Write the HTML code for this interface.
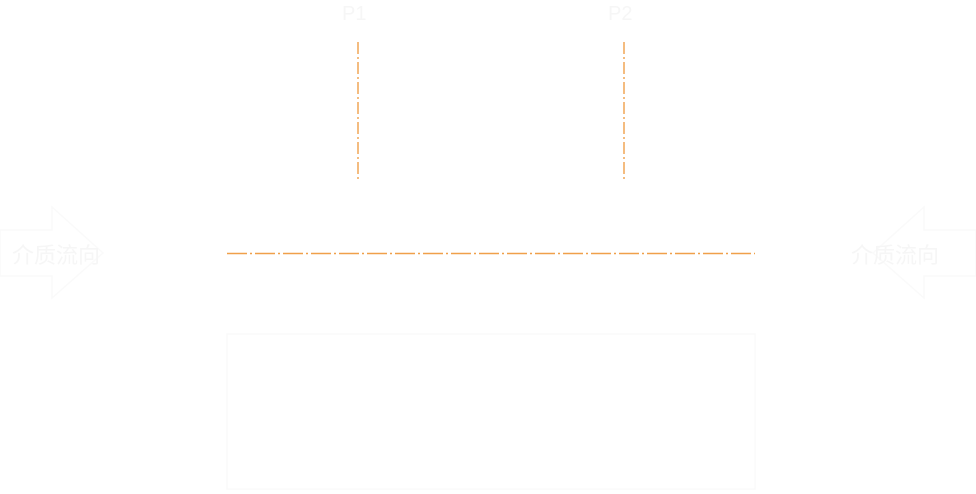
<!DOCTYPE html>
<html><head><meta charset="utf-8"><style>
html,body{margin:0;padding:0;background:#fff;width:976px;height:494px;overflow:hidden}
</style></head><body>
<svg width="976" height="494" xmlns="http://www.w3.org/2000/svg" style="position:absolute;left:0;top:0">
<g stroke="#fafafa" fill="none" stroke-width="1.5">
<polygon points="0,230 52,230 52,207 103,253 52,298 52,276 0,276"/>
<polygon points="976,230 924,230 924,207 873,253 924,298 924,276 976,276"/>
<rect x="227" y="334" width="528" height="155"/>
</g>
<g font-family="Liberation Sans, Noto Sans CJK SC, sans-serif" fill="#f6f6f6">
<text x="342" y="20" font-size="20">P1</text>
<text x="608" y="20" font-size="20">P2</text>
<text x="12" y="263" font-size="22">介质流向</text>
<text x="895" y="263" font-size="22" text-anchor="middle">介质流向</text>
</g>
<g stroke="#f0a04a" stroke-width="1.4" fill="none">
<line x1="358" y1="42" x2="358" y2="182" stroke-dasharray="12,3,2,3"/>
<line x1="624" y1="42" x2="624" y2="180" stroke-dasharray="12,3,2,3"/>
<line x1="227" y1="253.5" x2="755" y2="253.5" stroke-dasharray="20,3,2,3"/>
</g>
</svg>
</body></html>
